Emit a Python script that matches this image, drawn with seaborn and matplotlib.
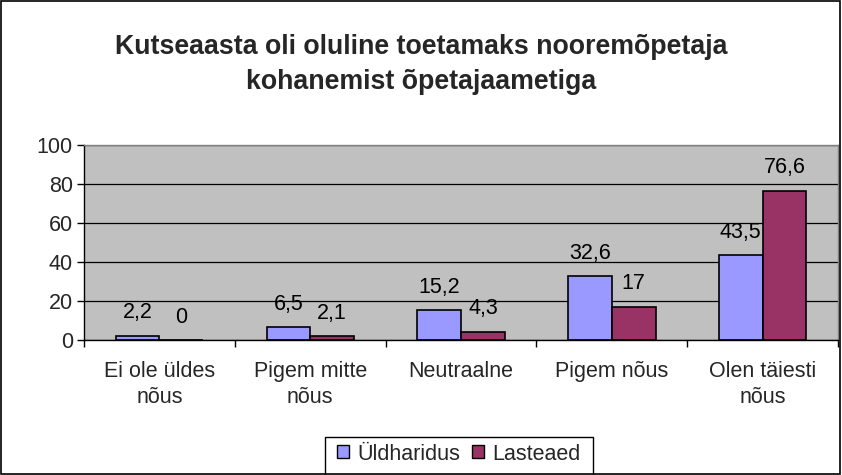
import matplotlib
matplotlib.use("Agg")
import matplotlib.pyplot as plt
import seaborn as sns
import pandas as pd
from matplotlib.patches import Rectangle

categories = ["Ei ole üldes\nnõus", "Pigem mitte\nnõus", "Neutraalne", "Pigem nõus", "Olen täiesti\nnõus"]
uldharidus = [2.2, 6.5, 15.2, 32.6, 43.5]
lasteaed = [0, 2.1, 4.3, 17, 76.6]
series_names = ["Üldharidus", "Lasteaed"]
yticks = [0, 20, 40, 60, 80, 100]

df = pd.DataFrame({
    "kategooria": categories * 2,
    "väärtus": uldharidus + lasteaed,
    "rühm": [series_names[0]] * len(categories) + [series_names[1]] * len(categories),
})

sns.set_theme(style="white")
plt.rcParams["font.family"] = ["Liberation Sans", "DejaVu Sans"]

FS = 15.5

fig = plt.figure(figsize=(8.42, 4.75), dpi=100)
ax = fig.add_axes([0.0998, 0.284, 0.8955, 0.411])

palette = {series_names[0]: "#9999FF", series_names[1]: "#993366"}
sns.barplot(data=df, x="kategooria", y="väärtus", hue="rühm", palette=palette,
            width=0.58, edgecolor="black", linewidth=1.2, saturation=1,
            ax=ax, legend=True)

ax.set_facecolor("#C0C0C0")
ax.set_ylim(0, 100)
ax.set_xlim(-0.5, len(categories) - 0.5)
ax.set_yticks(yticks)
ax.set_yticklabels([str(t) for t in yticks], fontsize=FS)
ax.yaxis.grid(True, color="black", linewidth=0.9)
ax.set_axisbelow(True)
ax.tick_params(axis="y", length=5, width=1, color="black", direction="out", left=True, pad=3)
ax.tick_params(axis="x", which="major", length=0, labelsize=FS, pad=15)
ax.set_xticks([i - 0.5 for i in range(len(categories) + 1)], minor=True)
ax.tick_params(axis="x", which="minor", length=5, width=1, color="black", direction="out", bottom=True)
ax.set_xlabel("")
ax.set_ylabel("")
for lbl in ax.get_xticklabels():
    lbl.set_horizontalalignment("center")
    lbl.set_linespacing(1.3)

for side in ["left", "bottom"]:
    ax.spines[side].set_color("black")
    ax.spines[side].set_linewidth(1)
for side in ["top", "right"]:
    ax.spines[side].set_color("#808080")
    ax.spines[side].set_linewidth(1)

# value labels with decimal comma
for container in ax.containers:
    labels = [f"{b.get_height():g}".replace(".", ",") for b in container]
    ax.bar_label(container, labels=labels, padding=9, fontsize=FS, color="black")

# legend: entries without frame, box drawn separately so it runs off the bottom edge
handles, labels = ax.get_legend_handles_labels()
ax.get_legend().remove()
for h in handles:
    h.set_edgecolor("black")
    h.set_linewidth(1)
leg = fig.legend(handles, labels, loc="center", bbox_to_anchor=(459 / 842, 1 - 454 / 475), ncol=2,
                 frameon=False, fontsize=FS,
                 handlelength=0.55, handleheight=0.55, handletextpad=0.4,
                 columnspacing=0.55, borderpad=0, borderaxespad=0)
fig.patches.append(Rectangle((325 / 842, -0.02), (593 - 325) / 842, 0.02 + (475 - 437) / 475,
                             transform=fig.transFigure, fill=False, edgecolor="black", linewidth=1))

fig.text(0.5, 0.864, "Kutseaasta oli oluline toetamaks nooremõpetaja\nkohanemist õpetajaametiga",
         ha="center", va="center", fontsize=19.3, fontweight="bold", linespacing=1.42)

fig.patches.append(Rectangle((0.001, 0.002), 0.997, 0.996, transform=fig.transFigure,
                             fill=False, edgecolor="black", linewidth=1.2))

fig.savefig("out.png", dpi=100, facecolor="white")
